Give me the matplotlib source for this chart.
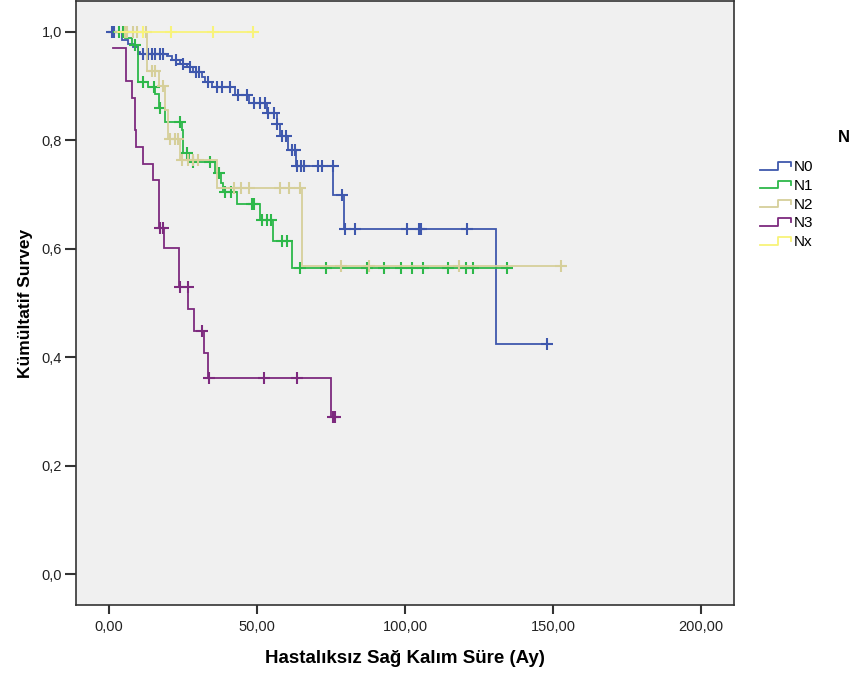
from __future__ import annotations

import matplotlib

matplotlib.use("Agg")
import matplotlib.pyplot as plt
import numpy as np
from matplotlib.lines import Line2D


OUTPUT_FILE = "out.png"
BACKGROUND = "#f0f0f0"

GROUP_LABELS = ["N0", "N1", "N2", "N3", "Nx"]
GROUP_COLORS = ["#3f58ad", "#2db84a", "#d6cf9a", "#7d2a7e", "#f8f37a"]

# step points: time of each drop and the new survival level
n0_times = [0.0, 4.5, 6.5, 8.2, 9.9, 10.5, 19.5, 21.2, 24.0, 26.2, 28.5, 31.3, 32.4, 34.7,
            42.6, 47.4, 53.5, 56.6, 57.8, 60.6, 63.0, 75.8, 79.4, 130.7]
n0_surv = [1.0, 0.985, 0.978, 0.972, 0.963, 0.959, 0.955, 0.949, 0.941, 0.935, 0.926, 0.917, 0.908, 0.899,
           0.884, 0.868, 0.850, 0.830, 0.808, 0.782, 0.752, 0.699, 0.636, 0.424]
n0_end = 149.0
n0_cens = [0.9, 1.5, 11.6, 13.1, 14.4, 15.5, 17.2, 18.3, 22.5, 25.0, 27.5, 29.5, 30.5, 33.5,
           36.4, 38.0, 40.9, 43.7, 46.5, 48.8, 51.0, 52.7, 53.8, 55.8, 56.9, 58.3, 59.8, 61.7, 62.8,
           63.4, 64.8, 65.9, 70.7, 71.9, 75.5, 78.8, 79.6, 83.1, 100.6, 104.8, 105.3, 120.8, 148.1]

n1_times = [2.0, 5.5, 7.7, 9.9, 13.3, 15.5, 16.7, 18.9, 24.5, 25.0, 27.0, 35.8, 37.8, 38.6,
            43.1, 51.0, 55.3, 61.7]
n1_surv = [1.0, 0.988, 0.976, 0.908, 0.898, 0.886, 0.859, 0.834, 0.819, 0.776, 0.760, 0.739, 0.722, 0.705,
           0.683, 0.654, 0.615, 0.565]
n1_end = 136.0
n1_cens = [3.2, 4.8, 8.8, 11.6, 15.0, 17.2, 24.0, 26.2, 28.5, 34.1, 37.0, 39.2, 41.1, 48.2, 49.0,
           51.6, 53.3, 54.6, 58.3, 60.0, 64.5, 73.3, 87.1, 93.0, 98.5, 102.3, 106.2, 114.4, 120.6,
           123.1, 134.6]

n2_times = [2.0, 12.7, 16.7, 19.0, 20.0, 24.0, 36.4, 65.1]
n2_surv = [1.0, 0.928, 0.900, 0.856, 0.802, 0.764, 0.713, 0.569]
n2_end = 154.0
n2_cens = [5.4, 6.0, 8.2, 9.3, 12.4, 14.4, 15.5, 18.3, 20.6, 22.3, 23.4, 24.5, 26.5, 28.2, 30.2,
           42.3, 44.6, 47.3, 57.8, 60.8, 64.5, 78.3, 87.9, 118.3, 152.6]

n3_times = [1.4, 5.7, 7.7, 8.6, 9.1, 11.6, 14.8, 17.0, 18.6, 23.6, 26.8, 28.8, 31.9, 33.5, 74.9]
n3_surv = [0.971, 0.910, 0.879, 0.819, 0.788, 0.757, 0.727, 0.638, 0.601, 0.530, 0.489, 0.449, 0.407,
           0.362, 0.289]
n3_end = 76.5
n3_cens = [17.2, 18.2, 23.9, 26.6, 31.3, 33.8, 52.5, 63.6, 75.8, 76.4]

nx_times = [3.0]
nx_surv = [1.0]
nx_end = 50.3
nx_cens = [11.5, 21.0, 35.0, 48.6]

X_TICKS = [0, 50, 100, 150, 200]
X_TICK_LABELS = ["0,00", "50,00", "100,00", "150,00", "200,00"]
Y_TICKS = [0.0, 0.2, 0.4, 0.6, 0.8, 1.0]
Y_TICK_LABELS = ["0,0", "0,2", "0,4", "0,6", "0,8", "1,0"]


def survival_at(times, surv, t):
    """Value of the step curve at time t."""
    idx = np.searchsorted(np.asarray(times), t, side="right") - 1
    return surv[max(idx, 0)]


def draw_group(ax, times, surv, end, cens, color):
    x = list(times) + [end]
    y = list(surv) + [surv[-1]]
    ax.step(x, y, where="post", color=color, linewidth=1.3, solid_joinstyle="miter")
    cens_y = [survival_at(times, surv, t) for t in cens]
    ax.plot(cens, cens_y, linestyle="none", marker="+", markersize=8,
            markeredgewidth=1.5, color=color)


def draw_legend(fig):
    """SPSS style legend with little step glyphs."""
    W, H = fig.get_size_inches() * fig.dpi
    fig.text(838 / W, 1 - 137 / H, "N", fontsize=12, fontweight="bold",
             ha="left", va="center")
    for i, (label, color) in enumerate(zip(GROUP_LABELS, GROUP_COLORS)):
        yc = 167 + i * 18.8
        xs = [760, 778, 778, 791, 791]
        ys = [yc + 2.5, yc + 2.5, yc - 5, yc - 5, yc - 1]
        fig.add_artist(Line2D([v / W for v in xs], [1 - v / H for v in ys],
                              color=color, linewidth=1.3, transform=fig.transFigure))
        fig.text(794 / W, 1 - yc / H, label, fontsize=11, ha="left", va="center")


def main():
    plt.rcParams["font.family"] = ["Liberation Sans", "DejaVu Sans"]
    fig = plt.figure(figsize=(8.52, 6.77), dpi=100)
    ax = fig.add_axes([76 / 852, 72 / 677, (734 - 76) / 852, (605 - 1) / 677])
    ax.set_facecolor(BACKGROUND)

    groups = [
        (n0_times, n0_surv, n0_end, n0_cens),
        (n1_times, n1_surv, n1_end, n1_cens),
        (n2_times, n2_surv, n2_end, n2_cens),
        (n3_times, n3_surv, n3_end, n3_cens),
        (nx_times, nx_surv, nx_end, nx_cens),
    ]
    for (times, surv, end, cens), color in zip(groups, GROUP_COLORS):
        draw_group(ax, times, surv, end, cens, color)

    ax.set_xlim(-11.2, 211.2)
    ax.set_ylim(-0.057, 1.057)
    ax.set_xticks(X_TICKS)
    ax.set_xticklabels(X_TICK_LABELS)
    ax.set_yticks(Y_TICKS)
    ax.set_yticklabels(Y_TICK_LABELS)
    ax.tick_params(direction="out", width=1.5, color="#333333",
                   labelsize=10.5, labelcolor="#222222")
    ax.tick_params(axis="x", length=6.5, pad=4)
    ax.tick_params(axis="y", length=8, pad=2)
    for spine in ax.spines.values():
        spine.set_color("#333333")
        spine.set_linewidth(1.2)

    ax.set_xlabel("Hastalıksız Sağ Kalım Süre (Ay)", fontsize=13.5, fontweight="bold", labelpad=12)
    ax.set_ylabel("Kümültatif Survey", fontsize=12.5, fontweight="bold", labelpad=6)

    draw_legend(fig)
    fig.savefig(OUTPUT_FILE, dpi=100, facecolor="white")
    plt.close(fig)


if __name__ == "__main__":
    main()
